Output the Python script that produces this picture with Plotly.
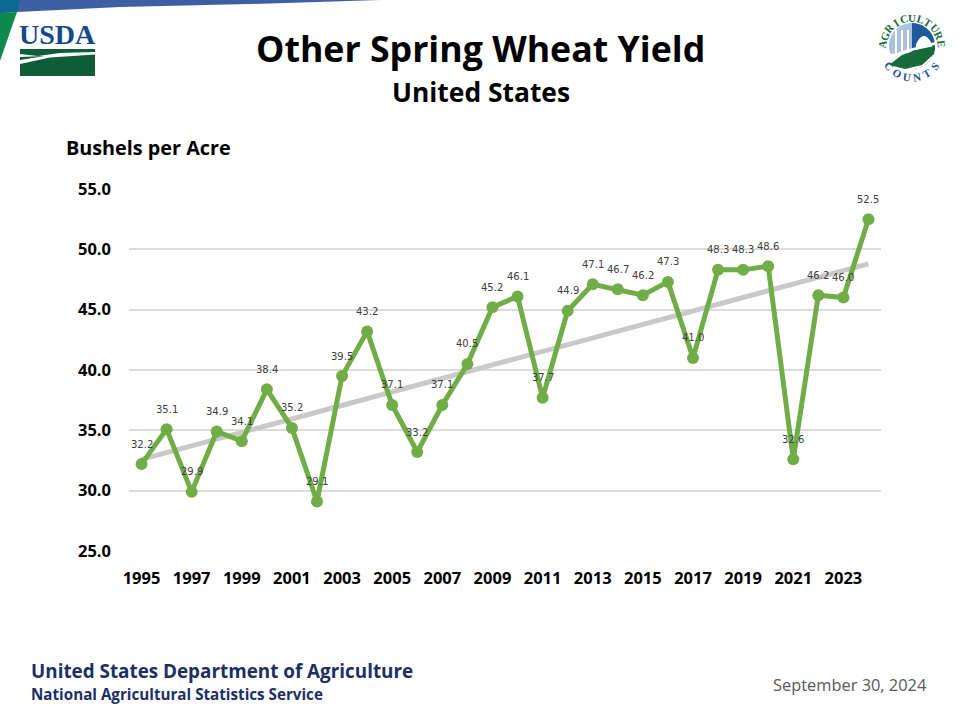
import math
import plotly.graph_objects as go

years = list(range(1995, 2025))
yields = [32.2, 35.1, 29.9, 34.9, 34.1, 38.4, 35.2, 29.1, 39.5, 43.2,
          37.1, 33.2, 37.1, 40.5, 45.2, 46.1, 37.7, 44.9, 47.1, 46.7,
          46.2, 47.3, 41.0, 48.3, 48.3, 48.6, 32.6, 46.2, 46.0, 52.5]
trend_years = [1995, 2024]
trend_values = [32.6, 48.8]
y_ticks = [25, 30, 35, 40, 45, 50, 55]
x_ticks = list(range(1995, 2024, 2))

W, H = 960, 720
FONT = "Open Sans"
px = lambda x: x / W
py = lambda y: 1 - y / H


def poly(points, fill):
    d = "M " + " L ".join(f"{px(x):.5f},{py(y):.5f}" for x, y in points) + " Z"
    return dict(type="path", xref="paper", yref="paper", path=d, fillcolor=fill,
                line=dict(width=0), layer="above")


def label(x, y, text, size, color="#000000", bold=False, anchor="center", angle=0, family=FONT):
    return dict(xref="paper", yref="paper", x=px(x), y=py(y), text=f"<b>{text}</b>" if bold else text,
                showarrow=False, xanchor=anchor, yanchor="middle", textangle=angle,
                font=dict(family=family, size=size, color=color))


shapes, notes = [], []

# top banner
shapes.append(poly([(0, 0), (380, 0), (250, 4), (120, 7), (17, 12), (0, 13)], "#3f5fa5"))
shapes.append(poly([(0, 0), (20, 0), (17, 12), (0, 13)], "#0b6a93"))
shapes.append(poly([(0, 13), (17, 12), (0, 61)], "#0d8a4b"))

# USDA logo
notes.append(label(57.5, 34, "USDA", 28, "#14498a", True, family="Liberation Serif"))
shapes.append(poly([(20, 49), (95, 49), (95, 52), (60, 53), (38, 56), (20, 54)], "#0f5c38"))
shapes.append(poly([(20, 57), (45, 56), (20, 60)], "#0f5c38"))
shapes.append(poly([(20, 64), (50, 57.5), (95, 54.5), (95, 76), (20, 76)], "#0f5c38"))

# Agriculture Counts logo
cx, cy, r = 912, 46, 23


def disc_part(a0, a1, fill, n=40):
    pts = [(cx + r * math.cos(math.radians(a0 + (a1 - a0) * i / n)),
            cy + r * math.sin(math.radians(a0 + (a1 - a0) * i / n))) for i in range(n + 1)]
    return poly(pts, fill)


shapes.append(disc_part(90, 270, "#a9c3dc"))
shapes.append(disc_part(-90, 90, "#1c5a99"))
for bx in (895, 901, 907):
    shapes.append(poly([(bx, 30), (bx + 2, 30), (bx + 2, 56), (bx, 56)], "#ffffff"))
shapes.append(dict(type="path", xref="paper", yref="paper", layer="above", fillcolor="#ffffff",
                   line=dict(width=0),
                   path=f"M {px(916):.5f},{py(56):.5f} L {px(916):.5f},{py(44):.5f} "
                        f"Q {px(924):.5f},{py(28):.5f} {px(932):.5f},{py(44):.5f} L {px(932):.5f},{py(56):.5f} Z"))
shapes.append(disc_part(20, 160, "#ffffff"))
shapes.append(poly([(889, 65), (902, 55), (920, 49), (935, 46), (934, 54), (922, 65), (905, 69)], "#176b3a"))
shapes.append(poly([(889, 57), (902, 51), (920, 46), (935, 42), (935, 45), (918, 49), (900, 55), (889, 61)], "#ffffff"))

word = "AGRICULTURE"
for i, ch in enumerate(word):
    a = -172 + i * 164 / (len(word) - 1)
    notes.append(label(cx + 30 * math.cos(math.radians(a)), cy + 2 + 30 * math.sin(math.radians(a)),
                       ch, 11, "#176b3a", True, angle=a + 90, family="Liberation Serif"))
word = "COUNTS"
for i, ch in enumerate(word):
    a = 140 - i * 100 / (len(word) - 1)
    notes.append(label(cx + 30 * math.cos(math.radians(a)), cy + 1 + 30 * math.sin(math.radians(a)),
                       ch, 11, "#1c4f94", True, angle=a - 90, family="Liberation Serif"))

# titles and footer
notes.append(label(480, 48, "Other Spring Wheat Yield", 35.7, bold=True))
notes.append(label(481, 92, "United States", 26.4, bold=True))
notes.append(label(64, 148, "Bushels per Acre", 19.8, bold=True, anchor="left"))
notes.append(label(29, 671, "United States Department of Agriculture", 18.85, "#1b2f66", True, anchor="left"))
notes.append(label(29, 694, "National Agricultural Statistics Service", 15.2, "#1b2f66", True, anchor="left"))
notes.append(label(929, 684, "September 30, 2024", 16.4, "#595959", anchor="right"))

# data labels
for yr, v in zip(years, yields):
    notes.append(dict(x=yr, y=v, xref="x", yref="y", yshift=20, showarrow=False, text=f"{v:.1f}",
                      font=dict(family="DejaVu Sans", size=10, color="#404040")))

fig = go.Figure()
fig.add_trace(go.Scatter(x=trend_years, y=trend_values, mode="lines", cliponaxis=False,
                         line=dict(color="#c9c9c9", width=5), hoverinfo="skip"))
fig.add_trace(go.Scatter(x=years, y=yields, mode="lines+markers", cliponaxis=False,
                         line=dict(color="#70ad47", width=5),
                         marker=dict(color="#70ad47", size=12)))

fig.update_layout(
    width=W, height=H, margin=dict(l=0, r=0, t=0, b=0), autosize=False,
    paper_bgcolor="#ffffff", plot_bgcolor="#ffffff", showlegend=False,
    shapes=shapes, annotations=notes,
    xaxis=dict(domain=[129 / W, 881 / W], range=[1994.5, 2024.5], tickvals=x_ticks,
               ticktext=[f"<b>{t}</b>" for t in x_ticks], showgrid=False, zeroline=False,
               showline=False, ticks="", ticklabelstandoff=15, automargin=False,
               tickfont=dict(family=FONT, size=16.5, color="#000000")),
    yaxis=dict(domain=[1 - 551 / H, 1 - 189 / H], range=[25, 55], tickvals=y_ticks,
               ticktext=[f"<b>{t:.1f}</b>" for t in y_ticks], gridcolor="#dcdcdc", gridwidth=2,
               zeroline=False, showline=False, ticks="", ticklabelstandoff=17, automargin=False,
               tickfont=dict(family=FONT, size=16.5, color="#000000")),
)

fig.write_html("out.html", config=dict(displayModeBar=False),
               post_script="document.body.style.margin='0';")
